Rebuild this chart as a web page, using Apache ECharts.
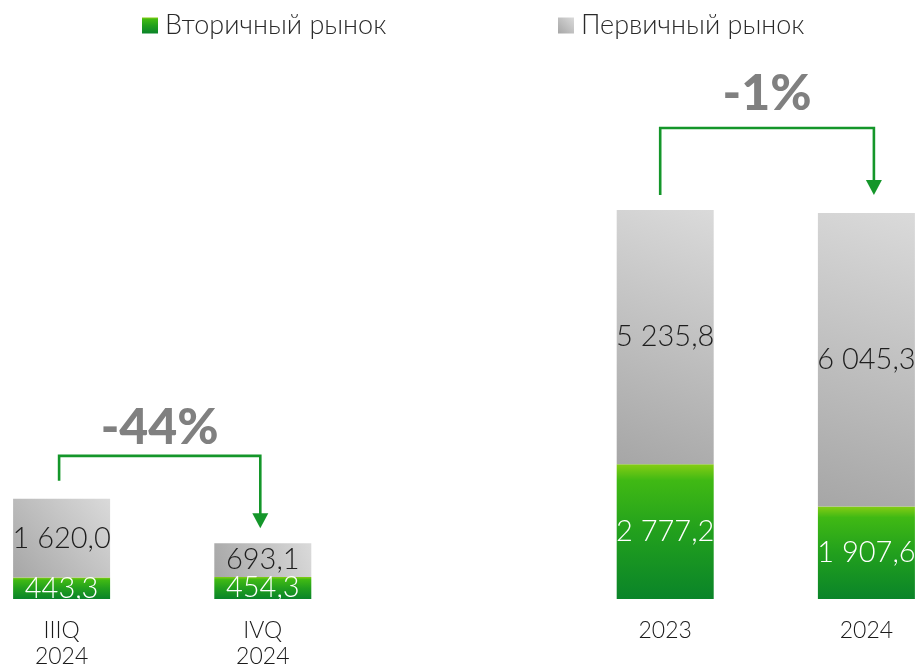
<!DOCTYPE html>
<html>
<head>
<meta charset="utf-8">
<script src="https://cdn.jsdelivr.net/npm/echarts@6/dist/echarts.min.js"></script>
<style>
  html, body { margin: 0; padding: 0; background: #ffffff; }
  #chart { width: 921px; height: 668px; }
</style>
</head>
<body>
<div id="chart"></div>
<script>
// Periods (the empty slot separates the quarterly pair from the yearly pair)
var categories = ['IIIQ\n2024', 'IVQ\n2024', '', '2023', '2024'];
// Secondary market (green, bottom of stack)
var secondaryMarket = [443.3, 454.3, null, 2777.2, 1907.6];
// Primary market (grey, top of stack)
var primaryMarket = [1620.0, 693.1, null, 5235.8, 6045.3];
// Change annotations: from category index to category index
var changes = [
  { from: 0, to: 1, text: '-44%' },
  { from: 3, to: 4, text: '-1%' }
];
var seriesNames = ['Вторичный рынок', 'Первичный рынок'];

var FONT = 'Lato, "Noto Sans", sans-serif';

function fmt(v) {
  var s = Number(v).toFixed(1).split('.');
  var intPart = s[0].replace(/\B(?=(\d{3})+(?!\d))/g, ' ');
  return intPart + ',' + s[1];
}

var greenFill = new echarts.graphic.LinearGradient(0, 0, 0, 1, [
  { offset: 0, color: '#86cd14' },
  { offset: 0.12, color: '#40b914' },
  { offset: 0.5, color: '#22a01d' },
  { offset: 1, color: '#0a8429' }
]);
var greyFill = new echarts.graphic.LinearGradient(0, 1, 1, 0, [
  { offset: 0, color: '#a6a6a6' },
  { offset: 1, color: '#dadada' }
]);

var chart = echarts.init(document.getElementById('chart'));

var legendText = { fontFamily: FONT, fontSize: 27, fontWeight: 300, color: '#2a2a2a', padding: [0, 0, 0, 2] };

var option = {
  animation: false,
  backgroundColor: '#ffffff',
  legend: [
    {
      data: [seriesNames[0]],
      left: 137, top: 7,
      itemWidth: 16, itemHeight: 16,
      icon: 'rect',
      textStyle: legendText
    },
    {
      data: [seriesNames[1]],
      left: 553, top: 7,
      itemWidth: 16, itemHeight: 16,
      icon: 'rect',
      textStyle: legendText
    }
  ],
  grid: { left: -39, right: -46, top: 113.5, bottom: 69, containLabel: false, outerBoundsMode: 'none' },
  xAxis: {
    type: 'category',
    data: categories,
    axisLine: { show: false },
    axisTick: { show: false },
    axisLabel: {
      margin: 19,
      fontFamily: FONT,
      fontSize: 23,
      fontWeight: 300,
      lineHeight: 26,
      color: '#1a1a1a',
      interval: 0
    }
  },
  yAxis: {
    type: 'value',
    min: 0,
    max: 10000,
    show: false,
    splitLine: { show: false }
  },
  series: [
    {
      name: seriesNames[0],
      type: 'bar',
      stack: 'total',
      barWidth: 97,
      data: secondaryMarket,
      itemStyle: { color: greenFill },
      label: {
        show: true,
        position: 'inside',
        formatter: function (p) { return fmt(p.value); },
        fontFamily: FONT,
        fontSize: 29,
        fontWeight: 300,
        color: '#ffffff'
      }
    },
    {
      name: seriesNames[1],
      type: 'bar',
      stack: 'total',
      barWidth: 97,
      data: primaryMarket,
      itemStyle: { color: greyFill },
      label: {
        show: true,
        position: 'inside',
        formatter: function (p) { return fmt(p.value); },
        fontFamily: FONT,
        fontSize: 29,
        fontWeight: 300,
        color: '#1e1e1e'
      }
    }
  ]
};

chart.setOption(option);

// Bracket arrows showing the change between two periods
function buildBrackets() {
  var elements = [];
  var lineColor = '#14962a';
  changes.forEach(function (c, i) {
    var fromTotal = secondaryMarket[c.from] + primaryMarket[c.from];
    var toTotal = secondaryMarket[c.to] + primaryMarket[c.to];
    var p1 = chart.convertToPixel({ gridIndex: 0 }, [c.from, fromTotal]);
    var p2 = chart.convertToPixel({ gridIndex: 0 }, [c.to, toTotal]);
    var isFirst = i === 0;
    var x1 = p1[0] + (isFirst ? -2.5 : -5);
    var x2 = p2[0] + (isFirst ? -2.5 : 7.5);
    var yStart = p1[1] - (isFirst ? 18 : 15);
    var yTop = Math.min(p1[1], p2[1]) - (isFirst ? 43 : 82);
    var yTip = p2[1] - (isFirst ? 15 : 18);
    var headH = 15, headW = 16;
    elements.push({
      type: 'polyline',
      shape: { points: [[x1, yStart], [x1, yTop], [x2, yTop], [x2, yTip - headH + 1]] },
      style: { stroke: lineColor, lineWidth: 2.6, fill: null }
    });
    elements.push({
      type: 'polygon',
      shape: { points: [[x2 - headW / 2, yTip - headH], [x2 + headW / 2, yTip - headH], [x2, yTip]] },
      style: { fill: lineColor }
    });
    elements.push({
      type: 'text',
      x: (x1 + x2) / 2,
      y: yTop - (isFirst ? 28 : 34),
      style: {
        text: c.text,
        fill: '#808080',
        font: '900 50px ' + FONT,
        align: 'center',
        verticalAlign: 'middle'
      }
    });
  });
  chart.setOption({ graphic: elements });
}
buildBrackets();
</script>
</body>
</html>
